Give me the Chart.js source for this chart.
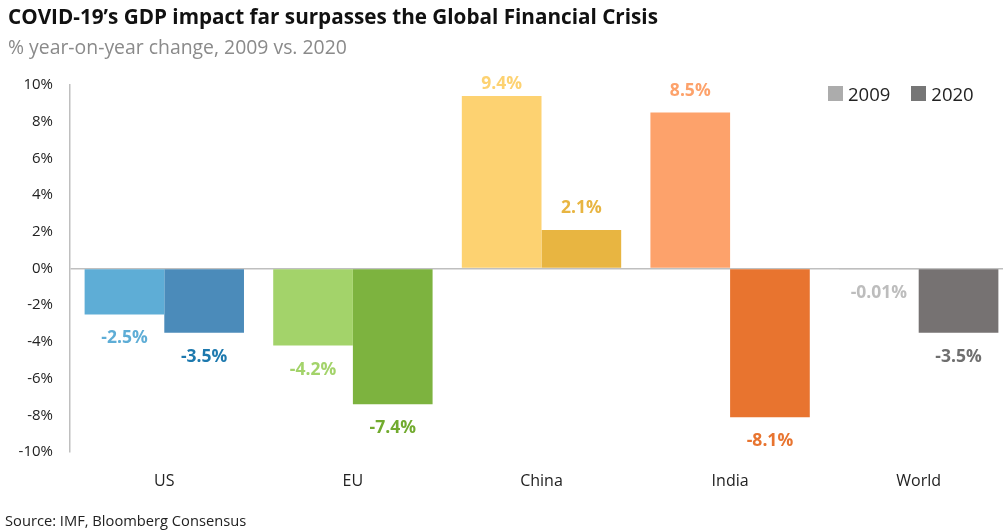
<!DOCTYPE html>
<html>
<head>
<meta charset="utf-8">
<script src="https://cdn.jsdelivr.net/npm/chart.js@4"></script>
<style>
  body { margin: 0; background: #fff; font-family: "Open Sans", sans-serif; }
  #wrap { position: relative; width: 1003px; height: 532px; overflow: hidden; }
  #chart { position: absolute; left: 0; top: 0; }
  .title { position: absolute; left: 8px; top: 2px; font-size: 20.7px; font-weight: 700; color: #111; white-space: nowrap; }
  .subtitle { position: absolute; left: 8px; top: 33px; font-size: 19.4px; color: #8a8a8a; white-space: nowrap; }
  .source { position: absolute; left: 5px; top: 510px; font-size: 14.7px; color: #222; white-space: nowrap; }
  .legend { position: absolute; top: 81px; left: 828px; font-size: 18.5px; color: #222; display: flex; gap: 21px; }
  .legend span { display: inline-flex; align-items: center; }
  .legend i { display: inline-block; width: 15px; height: 15px; margin-right: 5px; }
</style>
</head>
<body>
<div id="wrap">
  <canvas id="chart" width="1013" height="532"></canvas>
  <div class="title">COVID-19’s GDP impact far surpasses the Global Financial Crisis</div>
  <div class="subtitle">% year-on-year change, 2009 vs. 2020</div>
  <div class="legend">
    <span><i style="background:#acacac"></i>2009</span>
    <span><i style="background:#767676"></i>2020</span>
  </div>
  <div class="source">Source: IMF, Bloomberg Consensus</div>
</div>
<script>
// regions and growth rates
var regions = ['US', 'EU', 'China', 'India', 'World'];
var gdp2009 = [-2.5, -4.2, 9.4, 8.5, -0.01];
var gdp2020 = [-3.5, -7.4, 2.1, -8.1, -3.5];
var labels2009 = ['-2.5%', '-4.2%', '9.4%', '8.5%', '-0.01%'];
var labels2020 = ['-3.5%', '-7.4%', '2.1%', '-8.1%', '-3.5%'];

// each region gets a light (2009) and dark (2020) shade
var colors2009 = ['#5eadd6', '#a3d36a', '#fdd271', '#fda26b', '#bdbdbd'];
var colors2020 = ['#4b8bba', '#7db33f', '#e8b541', '#e8742f', '#767272'];
var text2009 = ['#5eadd6', '#a3d36a', '#fdd271', '#fda26b', '#bdbdbd'];
var text2020 = ['#1d79ae', '#72ab2f', '#e8b541', '#e8742f', '#6f6f6f'];

// value labels drawn at the end of every bar
const barLabels = {
  id: 'barLabels',
  afterDatasetsDraw(chart) {
    const ctx = chart.ctx;
    ctx.save();
    ctx.font = 'bold 17.5px "Open Sans", sans-serif';
    ctx.textAlign = 'center';
    ctx.textBaseline = 'middle';
    chart.data.datasets.forEach((ds, i) => {
      const meta = chart.getDatasetMeta(i);
      meta.data.forEach((bar, j) => {
        const v = ds.data[j];
        let y = v >= 0 ? bar.y - 22 : bar.y + 24;
        if (y < 84) y = 84;
        ctx.fillStyle = ds.labelColors[j];
        ctx.fillText(ds.valueLabels[j], bar.x, y);
      });
    });
    ctx.restore();
  }
};

var ctx = document.getElementById('chart').getContext('2d');
new Chart(ctx, {
  type: 'bar',
  data: {
    labels: regions,
    datasets: [
      {
        label: '2009',
        data: gdp2009,
        backgroundColor: colors2009,
        valueLabels: labels2009,
        labelColors: text2009
      },
      {
        label: '2020',
        data: gdp2020,
        backgroundColor: colors2020,
        valueLabels: labels2020,
        labelColors: text2020
      }
    ]
  },
  options: {
    responsive: false,
    animation: false,
    layout: { padding: { top: 85, right: 0, bottom: 0, left: 0 } },
    plugins: {
      legend: { display: false },
      tooltip: { enabled: false }
    },
    datasets: {
      bar: { categoryPercentage: 0.845, barPercentage: 1.0 }
    },
    scales: {
      x: {
        grid: { display: false },
        border: { display: false },
        ticks: { color: '#222', font: { family: 'Open Sans', size: 16 }, padding: 12 },
        afterFit: (scale) => { scale.height = 80; }
      },
      y: {
        min: -10,
        max: 10,
        grid: {
          drawTicks: false,
          color: (c) => c.tick && c.tick.value === 0 ? '#bfbfbf' : 'transparent',
          lineWidth: 1.5
        },
        border: { display: true, color: '#bfbfbf', width: 1.5 },
        ticks: {
          stepSize: 2,
          padding: 17,
          color: '#222',
          font: { family: 'Open Sans', size: 15 },
          callback: (v) => v + '%'
        },
        afterFit: (scale) => { scale.width = 70; }
      }
    }
  },
  plugins: [barLabels]
});
</script>
</body>
</html>
